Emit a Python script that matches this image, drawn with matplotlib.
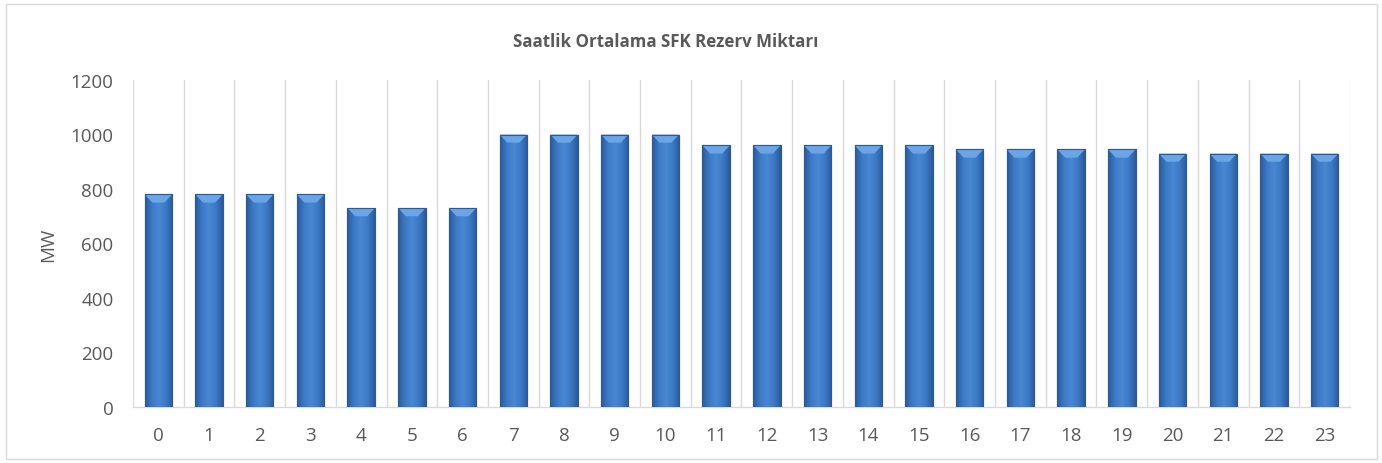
import matplotlib
matplotlib.use("Agg")
import matplotlib.pyplot as plt
import numpy as np
from matplotlib.colors import LinearSegmentedColormap
from matplotlib.patches import Rectangle

hours = [str(h) for h in range(24)]
values = [780, 780, 780, 780, 730, 730, 730,
          1000, 1000, 1000, 1000,
          960, 960, 960, 960, 960,
          945, 945, 945, 945,
          930, 930, 930, 930]
title = "Saatlik Ortalama SFK Rezerv Miktarı"
ylabel = "MW"

plt.rcParams['font.family'] = ['Open Sans', 'DejaVu Sans']
fig = plt.figure(figsize=(13.82, 4.64), dpi=100)
ax = fig.add_axes([133/1382, (464-408)/464, (1350-133)/1382, (408-81)/464])

x = np.arange(len(values))
bars = ax.bar(x, values, width=0.54, color="#3b77c2", edgecolor="#2d5a94", linewidth=0.8, zorder=3)

cmap = LinearSegmentedColormap.from_list("bev", ["#2c5b99", "#3c79c6", "#4a88d4", "#3c79c6", "#2c5b99"])
grad = np.linspace(0, 1, 64).reshape(1, -1)
for b in bars:
    x0, y0 = b.get_x(), b.get_y()
    w, h = b.get_width(), b.get_height()
    im = ax.imshow(grad, cmap=cmap, extent=[x0, x0 + w, y0, y0 + h], aspect="auto", zorder=3.5)
    im.set_clip_path(b)
    cap = 30
    top = plt.Polygon([[x0, y0 + h], [x0 + w, y0 + h], [x0 + w * 0.72, y0 + h - cap], [x0 + w * 0.28, y0 + h - cap]],
                      closed=True, facecolor="#6aa5e8", edgecolor="none", zorder=4)
    ax.add_patch(top)
    ax.add_patch(Rectangle((x0, y0), w, h, fill=False, edgecolor="#2d5a94", linewidth=0.8, zorder=4.5))

ax.set_xlim(-0.5, len(values) - 0.5)
ax.set_ylim(0, 1200)
ax.set_yticks(range(0, 1201, 200))
ax.set_xticks(x)
ax.set_xticklabels(hours)
for b in np.arange(-0.5, len(values), 1.0):
    ax.axvline(b, color="#d9d9d9", linewidth=1.0, zorder=1)

for s in ["top", "right", "left"]:
    ax.spines[s].set_visible(False)
ax.spines["bottom"].set_color("#d9d9d9")
ax.spines["bottom"].set_linewidth(1.0)
ax.tick_params(axis="both", length=0, labelsize=13.5, colors="#595959")
ax.tick_params(axis="y", pad=14)
ax.tick_params(axis="x", pad=14)
ax.set_ylabel(ylabel, fontsize=13.5, color="#595959", labelpad=10)

fig.text(666 / 1382, 1 - 42 / 464, title, ha="center", va="center",
         fontsize=12.2, fontweight="bold", color="#595959")

fig.patches.append(Rectangle((6 / 1382, 4 / 464), 1371 / 1382, 455 / 464, transform=fig.transFigure,
                             fill=False, edgecolor="#d9d9d9", linewidth=1.0))

fig.savefig("out.png", dpi=100, facecolor="white")
